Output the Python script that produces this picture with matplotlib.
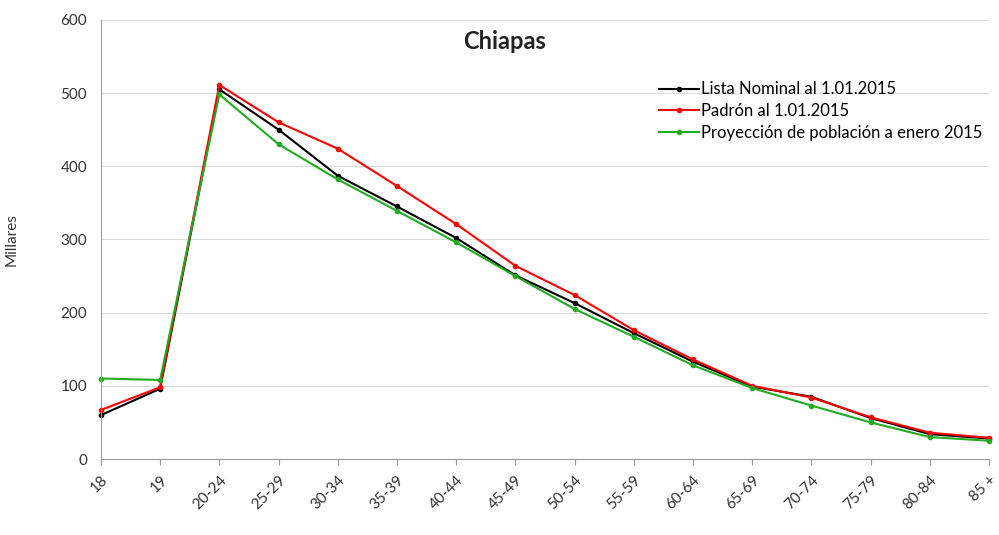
import matplotlib.pyplot as plt

plt.rcParams['font.family'] = ['Lato', 'DejaVu Sans']

edades = ['18', '19', '20-24', '25-29', '30-34', '35-39', '40-44', '45-49',
          '50-54', '55-59', '60-64', '65-69', '70-74', '75-79', '80-84', '85 +']

lista_nominal = [60, 96, 505, 450, 387, 345, 302, 251, 213, 172, 133, 99, 85, 56, 34, 28]
padron = [67, 98, 511, 460, 424, 373, 321, 264, 224, 176, 136, 100, 84, 57, 36, 29]
proyeccion = [110, 108, 498, 430, 382, 339, 296, 250, 205, 167, 128, 97, 73, 50, 30, 25]

legenda = ['Lista Nominal al 1.01.2015', 'Padrón al 1.01.2015',
           'Proyección de población a enero 2015']
cores = ['#000000', '#ff0000', '#22aa22']

fig, ax = plt.subplots(figsize=(9.99, 5.35), dpi=100)
fig.subplots_adjust(left=0.101, right=0.99, bottom=0.142, top=0.963)

x = list(range(len(edades)))
for serie, nome, cor in zip([lista_nominal, padron, proyeccion], legenda, cores):
    ax.plot(x, serie, color=cor, lw=1.5, marker='o', ms=3, label=nome, clip_on=False)

ax.set_xlim(0, len(edades) - 1)
ax.set_ylim(0, 600)
ax.set_yticks(range(0, 601, 100))
ax.set_xticks(x)
ax.set_xticklabels(edades, rotation=45, ha='right', rotation_mode='anchor', fontsize=11, color='#333333')
ax.tick_params(axis='y', length=0, labelsize=11, labelcolor='#333333', pad=10)
ax.tick_params(axis='x', length=4, color='#999999', pad=6)
ax.grid(axis='y', color='#dddddd', lw=0.8)
ax.set_axisbelow(True)
for s in ['top', 'right']:
    ax.spines[s].set_visible(False)
ax.spines['left'].set_color('#999999')
ax.spines['bottom'].set_color('#999999')

ax.set_ylabel('Millares', fontsize=11, color='#333333', labelpad=30)
ax.text(0.455, 0.95, 'Chiapas', transform=ax.transAxes, ha='center', va='center',
        fontsize=17, fontweight='bold', color='#222222')
ax.legend(loc='upper right', bbox_to_anchor=(1.0, 0.875), frameon=False, fontsize=12,
          handlelength=2.4, handletextpad=0.1, labelspacing=0.35, borderaxespad=0)

fig.savefig('out.png')
